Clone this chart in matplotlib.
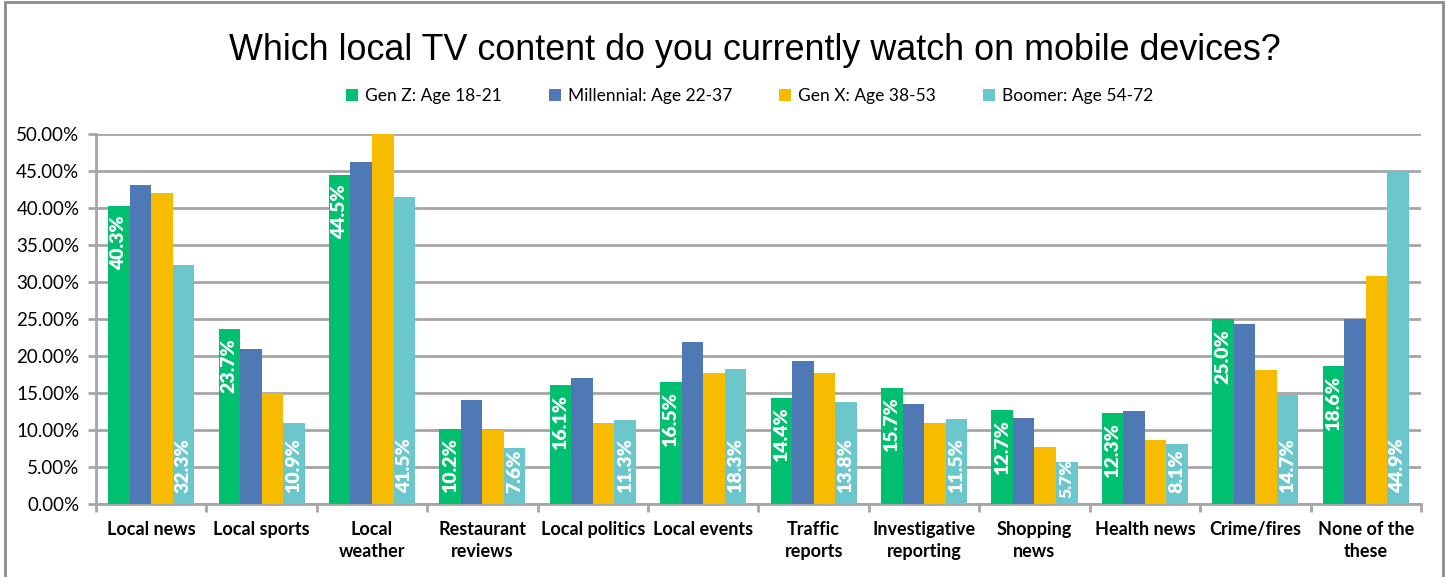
import numpy as np
import matplotlib
matplotlib.use("Agg")
import matplotlib.pyplot as plt
from matplotlib.patches import Rectangle
from matplotlib.ticker import FuncFormatter, MultipleLocator

# datos de la encuesta (porcentaje de cada generacion)
categorias = [
    "Local news", "Local sports", "Local\nweather", "Restaurant\nreviews",
    "Local politics", "Local events", "Traffic\nreports", "Investigative\nreporting",
    "Shopping\nnews", "Health news", "Crime/fires", "None of the\nthese",
]
gen_z = [40.3, 23.7, 44.5, 10.2, 16.1, 16.5, 14.4, 15.7, 12.7, 12.3, 25.0, 18.6]
millennial = [43.2, 21.0, 46.2, 14.1, 17.0, 21.9, 19.4, 13.5, 11.6, 12.6, 24.4, 25.0]
gen_x = [42.0, 15.0, 50.0, 10.0, 11.0, 17.7, 17.7, 11.0, 7.7, 8.6, 18.1, 30.8]
boomer = [32.3, 10.9, 41.5, 7.6, 11.3, 18.3, 13.8, 11.5, 5.7, 8.1, 14.7, 44.9]

series = [
    ("Gen Z: Age 18-21", gen_z, "#00BF6F"),
    ("Millennial: Age 22-37", millennial, "#4E79B4"),
    ("Gen X: Age 38-53", gen_x, "#F7BC00"),
    ("Boomer: Age 54-72", boomer, "#6CC7CC"),
]

FUENTE = "Lato"
GRIS = "#A6A6A6"

fig = plt.figure(figsize=(14.47, 5.77), dpi=100)
ax = fig.add_axes([0.0663, 0.1265, 0.9157, 0.6407])

x = np.arange(len(categorias))
ancho = 0.195
barras = []
for i, (nombre, valores, color) in enumerate(series):
    pos = x + (i - 1.5) * ancho
    b = ax.bar(pos, valores, ancho, color=color, label=nombre, zorder=3)
    barras.append(b)

# etiquetas: Gen Z dentro del extremo, Boomer dentro de la base
for rect, v in zip(barras[0], gen_z):
    ax.annotate(f"{v:.1f}%", (rect.get_x() + rect.get_width() / 2, v),
                xytext=(0, -7), textcoords="offset points", rotation=90,
                ha="center", va="top", color="white", fontsize=14,
                fontweight="heavy", family=FUENTE, zorder=4)
for rect, v in zip(barras[3], boomer):
    # las barras cortas llevan la etiqueta mas pegada a la base
    desplaz = 4 if v < 7 else 8
    tam = 12.5 if v < 7 else 14
    ax.annotate(f"{v:.1f}%", (rect.get_x() + rect.get_width() / 2, 0),
                xytext=(0, desplaz), textcoords="offset points", rotation=90,
                ha="center", va="bottom", color="white", fontsize=tam,
                fontweight="heavy", family=FUENTE, zorder=4)

ax.set_xlim(-0.5, len(categorias) - 0.5)
ax.set_ylim(0, 50)
ax.yaxis.set_major_locator(MultipleLocator(5))
ax.yaxis.set_major_formatter(FuncFormatter(lambda v, _: f"{v:.2f}%"))
ax.grid(axis="y", color=GRIS, linewidth=2, zorder=0)

ax.set_xticks(x)
ax.set_xticklabels(categorias, fontsize=13, fontweight="bold", family=FUENTE,
                   linespacing=1.4)
ax.set_xticks(np.arange(-0.5, len(categorias)), minor=True)
ax.tick_params(axis="x", which="major", length=0, pad=12)
ax.tick_params(axis="x", which="minor", length=6, width=2, color=GRIS)
ax.tick_params(axis="y", length=6, width=2, color=GRIS, labelsize=13.5, pad=6)
for lbl in ax.get_yticklabels():
    lbl.set_family(FUENTE)
for lbl in ax.get_xticklabels():
    lbl.set_verticalalignment("top")

for lado in ("top", "right"):
    ax.spines[lado].set_visible(False)
for lado in ("left", "bottom"):
    ax.spines[lado].set_color(GRIS)
    ax.spines[lado].set_linewidth(2)

fig.text(0.522, 0.912, "Which local TV content do you currently watch on mobile devices?",
         ha="center", va="center", fontsize=25.8, family="Liberation Sans")

fig.legend(loc="center", bbox_to_anchor=(0.518, 0.833), ncol=4, frameon=False,
           prop={"family": FUENTE, "size": 12.5}, handlelength=0.7, handleheight=0.7,
           handletextpad=0.4, columnspacing=2.7)

# marco exterior gris
fig.add_artist(Rectangle((0.0035, -0.01), 0.9935, 1.006, transform=fig.transFigure,
                         fill=False, edgecolor="#8C8C8C", linewidth=2))

fig.savefig("out.png", dpi=100)
